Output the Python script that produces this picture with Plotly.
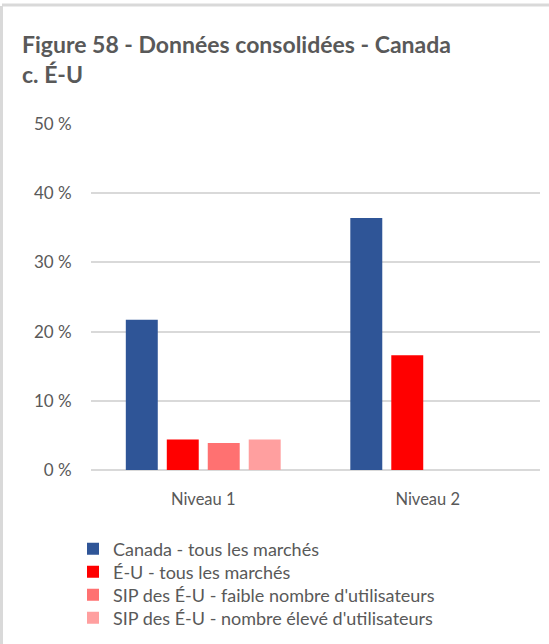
import plotly.graph_objects as go

categories = ["Niveau 1", "Niveau 2"]
series_names = [
    "Canada - tous les marchés",
    "É-U - tous les marchés",
    "SIP des É-U - faible nombre d'utilisateurs",
    "SIP des É-U - nombre élevé d'utilisateurs",
]
canada = [21.7, 36.4]
eu = [4.4, 16.6]
sip_faible = [3.9, None]
sip_eleve = [4.4, None]
colors = ["#2F5597", "#FF0000", "#FF7171", "#FF9F9F"]
tick_vals = [0, 10, 20, 30, 40, 50]
tick_text = ["0 %", "10 %", "20 %", "30 %", "40 %", "50 %"]

W, H = 549, 644
L, R, T, B = 91, 9, 124, 174
pw, ph = W - L - R, H - T - B

def px(x):
    return (x - L) / pw

def py(y):
    return (H - B - y) / ph

font_fam = "Lato, 'Open Sans', sans-serif"
grey = "#595959"

fig = go.Figure()
legend_rows = [549, 572, 595, 618]
legend_names = ["legend", "legend2", "legend3", "legend4"]
for name, vals, c, lg in zip(series_names, [canada, eu, sip_faible, sip_eleve], colors, legend_names):
    fig.add_trace(go.Bar(x=categories, y=vals, name=name, legend=lg,
                         marker=dict(color=c, line=dict(width=0))))

layout_legends = {}
for lg, row in zip(legend_names, legend_rows):
    layout_legends[lg] = dict(x=px(73), xanchor="left", y=py(row), yanchor="middle",
                              font=dict(size=18, color=grey, family=font_fam),
                              bgcolor="rgba(0,0,0,0)", borderwidth=0)

fig.update_layout(
    width=W, height=H,
    margin=dict(l=L, r=R, t=T, b=B, autoexpand=False),
    paper_bgcolor="white", plot_bgcolor="white",
    barmode="group", bargap=0.27, bargroupgap=0.22,
    font=dict(family=font_fam, color=grey, size=16),
    title=dict(
        text="<b>Figure 58 - Données consolidées - Canada<br>c. É-U</b>",
        x=22 / W, xanchor="left", y=1 - 53 / H, yanchor="top",
        font=dict(size=23, color=grey, family=font_fam),
    ),
    xaxis=dict(showgrid=False, showline=False, ticks="outside", ticklen=14, tickcolor="rgba(0,0,0,0)",
               tickfont=dict(size=16.5, color=grey)),
    yaxis=dict(range=[0, 50], tickvals=tick_vals, ticktext=tick_text, showgrid=True,
               gridcolor="#D9D9D9", gridwidth=1.5, zeroline=True, zerolinecolor="#D9D9D9",
               zerolinewidth=1.5, showline=False, ticks="outside", ticklen=15,
               tickcolor="rgba(0,0,0,0)", tickfont=dict(size=17, color=grey)),
    showlegend=True,
    **layout_legends,
)

# panel border
fig.add_shape(type="line", xref="paper", yref="paper", x0=px(2), x1=px(W), y0=py(5), y1=py(5),
              line=dict(color="#D9D9D9", width=3))
fig.add_shape(type="line", xref="paper", yref="paper", x0=px(1.5), x1=px(1.5), y0=py(6), y1=py(H),
              line=dict(color="#D9D9D9", width=3))

fig.write_html("out.html", config={"displayModeBar": False},
               post_script="document.body.style.margin='0';")
